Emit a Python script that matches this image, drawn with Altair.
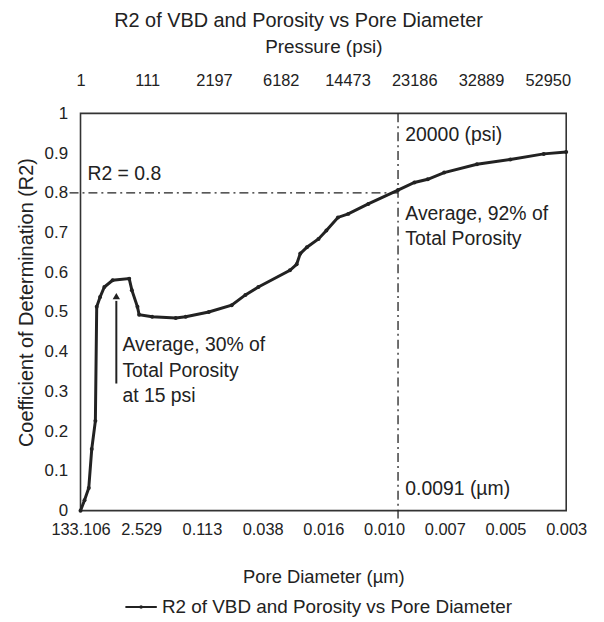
import json
import altair as alt
import pandas as pd

# ---------------- data ----------------
pore_labels = ["133.106", "2.529", "0.113", "0.038", "0.016", "0.010", "0.007", "0.005", "0.003"]
pressure_labels = ["1", "111", "2197", "6182", "14473", "23186", "32889", "52950"]
r2_ticks = ["0", "0.1", "0.2", "0.3", "0.4", "0.5", "0.6", "0.7", "0.8", "0.9", "1"]

# curve: position along the category axis (in bottom-label units) and R2
curve_pos = [0.0, 0.066, 0.136, 0.185, 0.245, 0.267, 0.323, 0.393, 0.529, 0.802, 0.846,
             0.938, 0.966, 1.18, 1.569, 1.733, 2.113, 2.49, 2.716, 2.93, 3.45, 3.56,
             3.62, 3.73, 3.92, 4.05, 4.24, 4.41, 4.74, 5.23, 5.50, 5.72, 5.99, 6.53,
             7.08, 7.63, 8.0]
curve_r2 = [0.0, 0.026, 0.057, 0.155, 0.226, 0.513, 0.538, 0.563, 0.580, 0.584, 0.555,
            0.513, 0.493, 0.488, 0.485, 0.488, 0.500, 0.517, 0.543, 0.563, 0.605, 0.620,
            0.647, 0.663, 0.684, 0.705, 0.738, 0.747, 0.772, 0.807, 0.826, 0.834, 0.851,
            0.872, 0.884, 0.898, 0.903]
series_name = "R2 of VBD and Porosity vs Pore Diameter"

# reference lines
r2_ref = 0.8
r2_ref_x = [-0.18, 5.23]
pore_ref_x = 5.23
pore_ref_y = [-0.02, 1.0]

# annotations
ann_text = ["R2 = 0.8", "20000 (psi)", "Average, 92% of", "Total Porosity", "0.0091 (µm)",
            "Average, 30% of", "Total Porosity", "at 15 psi"]
ann_x = [0.115, 5.35, 5.35, 5.35, 5.35, 0.69, 0.69, 0.69]
ann_y = [0.8475, 0.945, 0.746, 0.6825, 0.055, 0.4175, 0.351, 0.288]

arrow_x = 0.59
arrow_y = [0.32, 0.54]

FONT = "Liberation Sans"
INK = "#222222"

curve_df = pd.DataFrame({"pos": curve_pos, "r2": curve_r2, "series": series_name})
top_df = pd.DataFrame({"tpos": list(range(len(pressure_labels)))})
hline_df = pd.DataFrame({"pos": [r2_ref_x[0]], "pos2": [r2_ref_x[1]], "r2": [r2_ref]})
vline_df = pd.DataFrame({"pos": [pore_ref_x], "r2": [pore_ref_y[0]], "r2b": [pore_ref_y[1]]})
ann_df = pd.DataFrame({"pos": ann_x, "r2": ann_y, "text": ann_text})
arrow_df = pd.DataFrame({"pos": [arrow_x], "r2": [arrow_y[0]], "r2b": [arrow_y[1] - 0.012]})
head_df = pd.DataFrame({"pos": [arrow_x], "r2": [arrow_y[1]]})

xscale = alt.Scale(domain=[0, len(pore_labels) - 1], nice=False, zero=False)

x_axis = alt.Axis(
    values=list(range(len(pore_labels))),
    labelExpr=f"{json.dumps(pore_labels)}[datum.value]",
    title="Pore Diameter (µm)",
    ticks=False, domain=False, grid=False,
    labelFontSize=16.5, labelPadding=11, labelOverlap=False, labelFlush=False,
    labelColor=INK, titleColor=INK, titleFontWeight="normal",
    titleFontSize=18.5, titlePadding=30,
)
y_axis = alt.Axis(
    values=list(range(len(r2_ticks))),
    labelExpr=f"{json.dumps(r2_ticks)}[datum.value]",
    title="Coefficient of Determination (R2)",
    ticks=False, domain=False, grid=False, labelOverlap=False,
    labelFontSize=17, labelPadding=13, labelColor=INK,
    titleColor=INK, titleFontWeight="normal", titleFontSize=20, titlePadding=8,
    titleY=190,
)
# y is plotted in tenths so the tick labels map one-to-one to r2_ticks
y10 = alt.Scale(domain=[0, len(r2_ticks) - 1], nice=False)


def X(field="pos"):
    return alt.X(f"{field}:Q", scale=xscale, axis=x_axis)


def Y(field="r2"):
    return alt.Y(f"{field}10:Q", scale=y10, axis=y_axis)


def tenths(df, cols):
    df = df.copy()
    for c in cols:
        df[c + "10"] = df[c] * 10
    return df


curve_df = tenths(curve_df, ["r2"])
hline_df = tenths(hline_df, ["r2"])
vline_df = tenths(vline_df, ["r2", "r2b"])
ann_df = tenths(ann_df, ["r2"])
arrow_df = tenths(arrow_df, ["r2", "r2b"])
head_df = tenths(head_df, ["r2"])

# legend symbol: a short line with a small dot in the middle
legend_symbol = "M-1,0H1M-0.05,0A0.05,0.05 0 1,0 0.05,0A0.05,0.05 0 1,0 -0.05,0"

line = alt.Chart(curve_df).mark_line(strokeWidth=3, color=INK).encode(
    x=X(), y=Y(),
    color=alt.Color("series:N", scale=alt.Scale(range=[INK]),
                    legend=alt.Legend(orient="none", legendX=44, legendY=480, title=None,
                                      labelFontSize=19, labelColor=INK, labelFont=FONT,
                                      labelLimit=0, symbolType=legend_symbol,
                                      symbolSize=1000, symbolStrokeWidth=2,
                                      symbolFillColor=INK, padding=0)),
)
pts = alt.Chart(curve_df).mark_point(filled=True, size=16, color=INK, opacity=1).encode(
    x=X(), y=Y()
)
hline = alt.Chart(hline_df).mark_rule(color=INK, strokeWidth=1.3, strokeDash=[9, 4, 2, 4]).encode(
    x=X(), x2="pos2:Q", y=Y()
)
vline = alt.Chart(vline_df).mark_rule(color=INK, strokeWidth=1.3, strokeDash=[9, 4, 2, 4]).encode(
    x=X(), y=Y(), y2="r2b10:Q"
)
ann = alt.Chart(ann_df).mark_text(align="left", baseline="middle", fontSize=19.5,
                                  color=INK, font=FONT).encode(
    x=X(), y=Y(), text="text:N"
)
shaft = alt.Chart(arrow_df).mark_rule(color=INK, strokeWidth=2).encode(
    x=X(), y=Y(), y2="r2b10:Q"
)
head = alt.Chart(head_df).mark_point(shape="triangle-up", filled=True, size=55,
                                     color=INK, opacity=1).encode(
    x=X(), y=Y()
)

top = alt.Chart(top_df).mark_point(opacity=0).encode(
    x=alt.X("tpos:Q",
            scale=alt.Scale(domain=[0, 489 / 67.2], nice=False, zero=False),
            axis=alt.Axis(orient="top", values=list(range(len(pressure_labels))),
                          labelExpr=f"{json.dumps(pressure_labels)}[datum.value]",
                          title="Pressure (psi)", ticks=False, domain=False, grid=False,
                          labelFontSize=16.5, labelPadding=25, labelOverlap=False,
                          labelFlush=False, labelColor=INK, titleColor=INK,
                          titleFontWeight="normal", titleFontSize=19, titlePadding=16)),
)

main = alt.layer(line, pts, hline, vline, shaft, head, ann)
chart = alt.layer(main, top).resolve_scale(x="independent").properties(
    width=489, height=400,
    title=alt.TitleParams(series_name, fontSize=20, fontWeight="normal", color=INK,
                          font=FONT, anchor="middle", offset=7, dx=-25),
    autosize=alt.AutoSizeParams(type="none"),
    padding={"left": 73, "top": 104, "right": 30, "bottom": 108},
).configure(font=FONT).configure_view(stroke="#333333", strokeWidth=1.6).configure_axis(
    labelFont=FONT, titleFont=FONT
)

chart.save("out.html", embed_options={"renderer": "svg", "actions": False})
